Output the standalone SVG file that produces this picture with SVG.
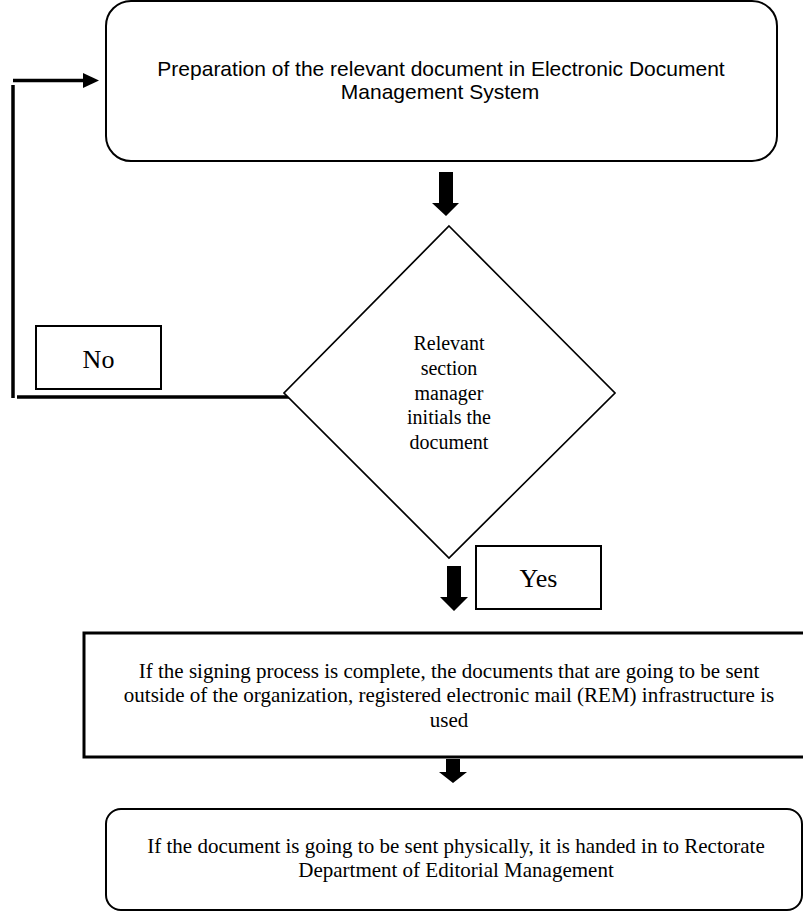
<svg xmlns="http://www.w3.org/2000/svg" width="803" height="913" viewBox="0 0 803 913">
<style>
.box{fill:#fff;stroke:#000;stroke-width:2}
.sans{font-family:"Liberation Sans",Arial,sans-serif;font-size:21px;fill:#000;text-anchor:middle}
.serif{font-family:"Liberation Serif","Times New Roman",serif;fill:#000;text-anchor:middle}
.line{fill:none;stroke:#000;stroke-width:3.5}
.blk{fill:#000;stroke:none}
</style>
<rect width="803" height="913" fill="#fff"/>
<g id="connectors">
  <polyline class="line" points="13,85 13,398"/>
  <polyline class="line" points="17,397 292,397"/>
  <line class="line" x1="13" y1="80.5" x2="86" y2="80.5"/>
  <polygon class="blk" points="83,73 99,80.5 83,88"/>
  <polygon class="blk" points="439,172 453,172 453,203 459,203 446,216 432,203 439,203"/>
  <polygon class="blk" points="447,566 461,566 461,597 468,597 454,611 440,597 447,597"/>
  <polygon class="blk" points="446,759 460,759 460,772 467,772 453,783 439,772 446,772"/>
</g>
<g id="n1">
  <rect class="box" x="106" y="1" width="671" height="160" rx="25" ry="25"/>
  <text class="sans" x="441" y="76">Preparation of the relevant document in Electronic Document</text>
  <text class="sans" x="440" y="99">Management System</text>
</g>
<g id="n2">
  <polygon class="box" style="stroke-width:1.7" points="449,226 615,393 449,558 284,393"/>
  <text class="serif" font-size="20" x="449" y="350">Relevant</text>
  <text class="serif" font-size="20" x="449" y="375">section</text>
  <text class="serif" font-size="20" x="449" y="400">manager</text>
  <text class="serif" font-size="20" x="449" y="424">initials the</text>
  <text class="serif" font-size="20" x="449" y="449">document</text>
</g>
<g id="no">
  <rect class="box" x="36" y="326" width="125" height="63"/>
  <text class="serif" font-size="26" x="98.5" y="368">No</text>
</g>
<g id="yes">
  <rect class="box" x="476" y="546" width="125" height="63"/>
  <text class="serif" font-size="26" x="538.5" y="587">Yes</text>
</g>
<g id="n3">
  <rect class="box" style="stroke-width:3" x="84" y="633" width="731" height="124"/>
  <text class="serif" font-size="21" x="449" y="678">If the signing process is complete, the documents that are going to be sent</text>
  <text class="serif" font-size="21" x="449" y="702">outside of the organization, registered electronic mail (REM) infrastructure is</text>
  <text class="serif" font-size="21" x="449" y="727">used</text>
</g>
<g id="n4">
  <rect class="box" x="106" y="809" width="696" height="101" rx="15" ry="15"/>
  <text class="serif" font-size="21" x="456" y="853">If the document is going to be sent physically, it is handed in to Rectorate</text>
  <text class="serif" font-size="21" x="456" y="877">Department of Editorial Management</text>
</g>
</svg>
